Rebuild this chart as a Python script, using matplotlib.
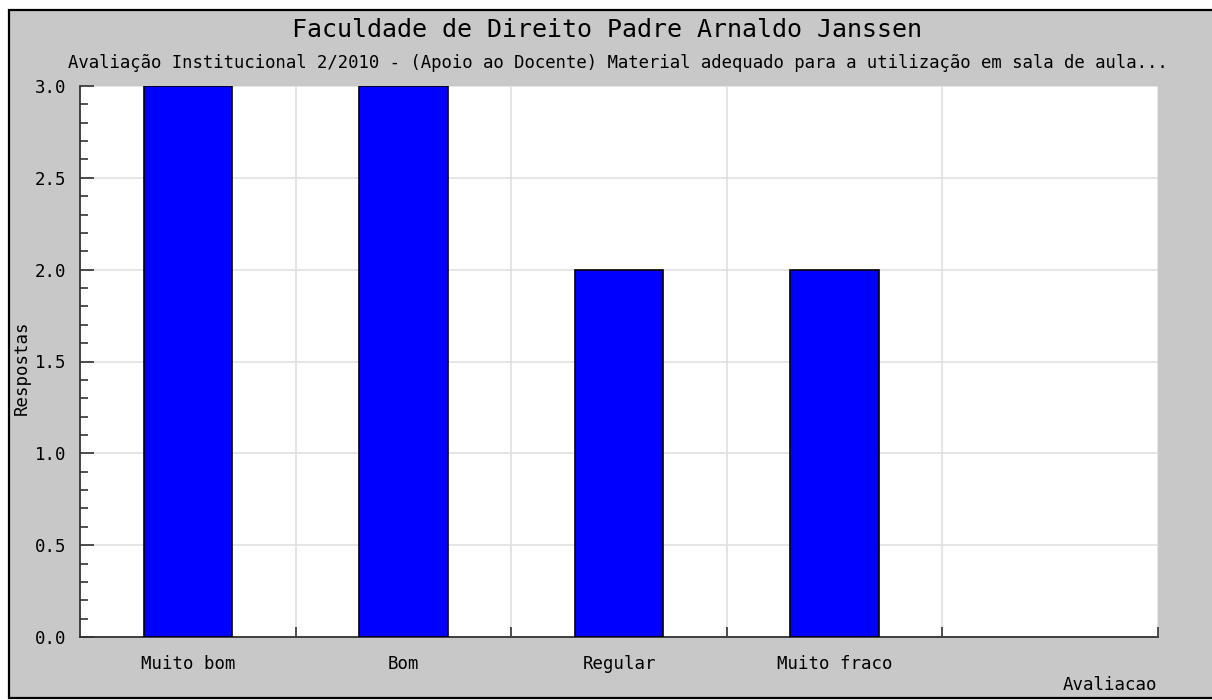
import matplotlib
matplotlib.use("Agg")
import matplotlib.pyplot as plt
from matplotlib.patches import Rectangle
from matplotlib.ticker import MultipleLocator, FixedLocator, NullFormatter

categories = ["Muito bom", "Bom", "Regular", "Muito fraco"]
values = [3, 3, 2, 2]
title = "Faculdade de Direito Padre Arnaldo Janssen"
subtitle = "Avaliação Institucional 2/2010 - (Apoio ao Docente) Material adequado para a utilização em sala de aula..."
xlabel = "Avaliacao"
ylabel = "Respostas"

W, H = 1212, 700
fig = plt.figure(figsize=(W / 100, H / 100), dpi=100)
fig.patch.set_facecolor("white")
font = "DejaVu Sans Mono"
gray = "#c8c8c8"

# outer gray panel with black border
fig.patches.append(Rectangle((9 / W, 2 / H), (W - 9 + 10) / W, (688) / H,
                             transform=fig.transFigure, facecolor=gray,
                             edgecolor="black", linewidth=1.6, zorder=-10))

ax = fig.add_axes([80 / W, 1 - 637 / H, (1158 - 80) / W, (637 - 86) / H])
ax.set_zorder(1)
ax.set_facecolor("white")
n_slots = len(categories) + 1
x = list(range(len(categories)))
ax.bar(x, values, width=0.41, color="#0000ff", edgecolor="black", linewidth=1.2, zorder=3)

ax.set_xlim(-0.5, n_slots - 0.5)
ax.set_ylim(0, 3.0)

ax.xaxis.set_major_locator(FixedLocator([i + 0.5 for i in range(n_slots)]))
ax.xaxis.set_major_formatter(NullFormatter())
ax.xaxis.set_minor_locator(FixedLocator(x))
ax.set_xticklabels(categories, minor=True)
ax.tick_params(axis="x", which="major", direction="in", length=7, width=1.2, color="#333333")
ax.tick_params(axis="x", which="minor", length=0, pad=13, labelsize=12.5)

ax.yaxis.set_major_locator(MultipleLocator(0.5))
ax.yaxis.set_minor_locator(MultipleLocator(0.1))
ax.yaxis.set_major_formatter(matplotlib.ticker.FormatStrFormatter("%.1f"))
ax.tick_params(axis="y", which="major", direction="in", length=10, width=1.2, color="#333333",
               labelsize=12.5, pad=10)
ax.tick_params(axis="y", which="minor", direction="in", length=6, width=1.2, color="#333333")
for lab in ax.get_xticklabels(minor=True) + ax.get_yticklabels():
    lab.set_fontfamily(font)

ax.grid(True, which="major", color="#e0e0e0", linewidth=1.2, zorder=0)
ax.set_axisbelow(True)

for s in ["top", "right"]:
    ax.spines[s].set_visible(False)
ax.spines["left"].set_color("#333333")
ax.spines["bottom"].set_color("#333333")
ax.spines["left"].set_linewidth(1.3)
ax.spines["bottom"].set_linewidth(1.3)

fig.text(607 / W, 1 - 30 / H, title, ha="center", va="center", fontsize=18,
         family=font, color="black")
fig.text(618 / W, 1 - 63 / H, subtitle, ha="center", va="center", fontsize=12.4,
         family=font, color="black")
fig.text(1157 / W, 1 - 685 / H, xlabel, ha="right", va="center", fontsize=12.5,
         family=font, color="black")
fig.text(22 / W, 1 - 368 / H, ylabel, ha="center", va="center", rotation=90,
         fontsize=12.5, family=font, color="black")

fig.savefig("out.png", dpi=100, facecolor=fig.get_facecolor())
